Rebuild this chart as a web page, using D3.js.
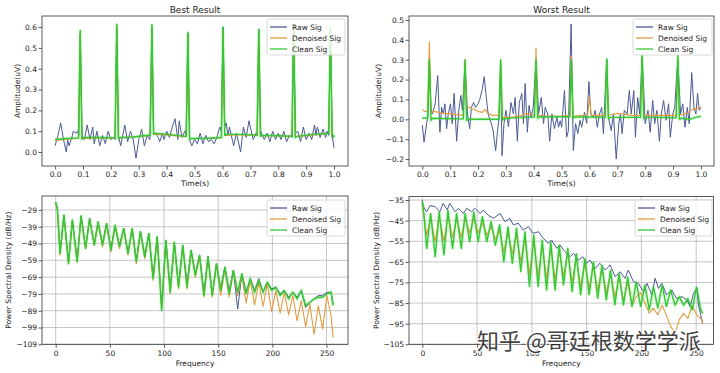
<!DOCTYPE html>
<html>
<head>
<meta charset="utf-8">
<script src="https://cdn.jsdelivr.net/npm/d3@7"></script>
<style>
body { margin: 0; background: #fff; }
svg text { font-family: "DejaVu Sans", sans-serif; fill: #222; }
</style>
</head>
<body>
<svg id="chart" width="720" height="373"></svg>
<script>
// ---- time domain, best result : [t, amplitude]
var rawBest = [[0,0.03],[0.01,0.08],[0.02,0.14],[0.03,0.06],[0.04,0.0],[0.045,0.06],[0.05,0.03],[0.06,0.07],[0.065,0.1],[0.075,0.09],[0.08,0.1],[0.085,0.08],[0.09,0.57],[0.097,0.07],[0.105,0.06],[0.115,0.13],[0.125,0.06],[0.135,0.12],[0.14,0.04],[0.15,0.1],[0.16,0.03],[0.17,0.08],[0.18,0.04],[0.19,0.1],[0.2,0.06],[0.21,0.07],[0.215,0.06],[0.221,0.6],[0.227,0.08],[0.235,0.03],[0.25,0.13],[0.26,0.05],[0.27,0.1],[0.28,0.06],[0.29,-0.03],[0.3,0.06],[0.31,0.11],[0.32,0.03],[0.33,0.08],[0.34,0.06],[0.347,0.6],[0.353,0.09],[0.36,0.09],[0.37,0.07],[0.375,0.05],[0.385,0.09],[0.39,0.06],[0.4,0.1],[0.41,0.07],[0.42,0.12],[0.43,0.16],[0.44,0.06],[0.445,0.15],[0.455,0.07],[0.465,0.1],[0.47,0.08],[0.476,0.57],[0.482,0.06],[0.49,0.03],[0.5,0.06],[0.51,0.04],[0.52,0.09],[0.53,0.04],[0.54,0.08],[0.55,0.05],[0.56,0.06],[0.57,0.04],[0.58,0.07],[0.59,0.12],[0.596,0.1],[0.602,0.6],[0.608,0.12],[0.613,0.14],[0.62,0.08],[0.625,0.12],[0.64,0.03],[0.65,0.09],[0.665,0.0],[0.675,0.12],[0.685,0.07],[0.695,0.15],[0.71,0.06],[0.72,0.09],[0.725,0.08],[0.73,0.59],[0.737,0.1],[0.75,0.06],[0.76,0.09],[0.77,0.05],[0.78,0.1],[0.79,0.06],[0.8,0.09],[0.81,0.06],[0.82,0.1],[0.83,0.05],[0.84,0.08],[0.85,0.07],[0.855,0.6],[0.862,0.09],[0.87,0.1],[0.88,0.05],[0.89,0.12],[0.9,0.06],[0.91,0.09],[0.92,0.06],[0.93,0.13],[0.935,0.08],[0.94,0.12],[0.95,0.07],[0.96,0.11],[0.97,0.07],[0.975,0.1],[0.981,0.08],[0.987,0.6],[0.993,0.08],[1.0,0.02]];
var denBest = [[0,0.055],[0.04,0.062],[0.084,0.066],[0.09,0.57],[0.096,0.064],[0.15,0.068],[0.215,0.068],[0.221,0.6],[0.227,0.066],[0.28,0.072],[0.341,0.08],[0.347,0.6],[0.353,0.085],[0.4,0.082],[0.47,0.074],[0.476,0.56],[0.482,0.064],[0.55,0.066],[0.596,0.07],[0.602,0.59],[0.608,0.08],[0.67,0.083],[0.724,0.08],[0.73,0.58],[0.736,0.078],[0.8,0.078],[0.849,0.075],[0.855,0.59],[0.861,0.074],[0.93,0.082],[0.981,0.09],[0.987,0.59],[0.993,0.08],[1.0,0.075]];
var cleanBest = [[0,0.06],[0.04,0.065],[0.084,0.068],[0.09,0.585],[0.096,0.062],[0.102,0.07],[0.15,0.07],[0.215,0.068],[0.221,0.615],[0.227,0.063],[0.233,0.07],[0.28,0.072],[0.341,0.082],[0.347,0.612],[0.353,0.085],[0.359,0.09],[0.4,0.085],[0.47,0.075],[0.476,0.575],[0.482,0.06],[0.488,0.065],[0.55,0.066],[0.596,0.07],[0.602,0.6],[0.608,0.08],[0.614,0.085],[0.67,0.085],[0.724,0.08],[0.73,0.59],[0.736,0.075],[0.742,0.08],[0.8,0.078],[0.849,0.075],[0.855,0.6],[0.861,0.07],[0.867,0.075],[0.93,0.085],[0.981,0.09],[0.987,0.6],[0.993,0.075],[0.998,0.08],[1.0,0.07]];

// ---- time domain, worst result
var rawWorst = [[0,-0.03],[0.006,-0.115],[0.016,-0.015],[0.02,0.02],[0.025,0.3],[0.031,0.05],[0.036,0.027],[0.046,0.078],[0.055,0.22],[0.063,-0.065],[0.069,0.06],[0.075,0.027],[0.081,0.078],[0.087,-0.047],[0.093,0.027],[0.101,0.078],[0.107,-0.022],[0.114,0.13],[0.123,-0.11],[0.131,0.045],[0.138,0.12],[0.144,0.045],[0.153,0.28],[0.162,0.027],[0.17,-0.047],[0.176,0.06],[0.184,0.085],[0.191,0.06],[0.2,0.078],[0.206,0.1],[0.215,0.15],[0.222,0.215],[0.228,0.13],[0.236,0.027],[0.246,-0.015],[0.254,-0.057],[0.263,-0.158],[0.27,-0.057],[0.276,0.02],[0.281,0.28],[0.286,-0.183],[0.293,-0.022],[0.3,0.045],[0.309,-0.038],[0.318,0.085],[0.327,0.027],[0.333,0.11],[0.341,-0.11],[0.348,0.085],[0.357,0.13],[0.363,-0.022],[0.369,0.18],[0.377,-0.065],[0.383,0.07],[0.39,0.01],[0.398,0.06],[0.408,0.3],[0.417,0.027],[0.427,0.11],[0.435,-0.022],[0.441,0.06],[0.45,0.027],[0.457,-0.11],[0.465,0.027],[0.474,-0.047],[0.483,0.01],[0.489,-0.04],[0.495,-0.007],[0.5,-0.04],[0.51,0.145],[0.518,-0.09],[0.524,-0.06],[0.534,0.48],[0.542,-0.157],[0.55,-0.022],[0.558,-0.072],[0.566,-0.005],[0.572,-0.04],[0.582,0.035],[0.59,-0.02],[0.598,0.19],[0.605,0.027],[0.614,0.01],[0.62,0.045],[0.628,-0.04],[0.636,0.027],[0.644,0.06],[0.65,-0.072],[0.662,0.3],[0.668,0.01],[0.678,-0.057],[0.686,0.027],[0.696,-0.2],[0.705,-0.022],[0.711,0.027],[0.717,-0.072],[0.725,0.045],[0.735,0.027],[0.743,0.145],[0.75,0.027],[0.759,0.145],[0.765,-0.09],[0.773,0.11],[0.78,0.027],[0.789,0.31],[0.8,-0.022],[0.81,0.045],[0.818,-0.065],[0.827,0.095],[0.834,-0.022],[0.842,0.045],[0.851,-0.11],[0.858,0.027],[0.866,0.095],[0.875,-0.005],[0.884,0.078],[0.89,-0.09],[0.899,0.027],[0.906,0.06],[0.917,0.3],[0.927,0.027],[0.935,0.078],[0.943,-0.04],[0.951,0.06],[0.958,-0.022],[0.967,0.235],[0.975,0.06],[0.982,0.027],[0.988,0.13],[0.994,0.045],[1.0,0.06]];
var denWorst = [[0,0.05],[0.008,0.04],[0.019,0.04],[0.025,0.39],[0.031,0.03],[0.04,0.04],[0.08,0.03],[0.12,0.025],[0.147,0.02],[0.153,0.3],[0.159,0.06],[0.17,0.06],[0.2,0.04],[0.215,0.035],[0.225,0.05],[0.235,0.03],[0.25,0.02],[0.275,0.02],[0.281,0.28],[0.287,0.01],[0.32,0.01],[0.36,0.02],[0.375,0.03],[0.402,0.02],[0.408,0.36],[0.414,0.02],[0.45,0.015],[0.5,0.015],[0.529,0.02],[0.535,0.32],[0.541,0.015],[0.58,0.02],[0.594,0.03],[0.6,0.115],[0.606,0.02],[0.656,0.02],[0.662,0.29],[0.668,0.02],[0.7,0.03],[0.75,0.02],[0.783,0.02],[0.789,0.31],[0.795,0.02],[0.85,0.02],[0.911,0.02],[0.917,0.3],[0.923,0.02],[0.95,0.03],[0.97,0.05],[1.0,0.06]];
var cleanWorst = [[0,0.005],[0.019,0.008],[0.025,0.3],[0.031,-0.005],[0.037,0.005],[0.1,0.003],[0.147,0.002],[0.153,0.3],[0.159,-0.005],[0.165,0.0],[0.22,0.0],[0.275,0.0],[0.281,0.3],[0.287,-0.005],[0.293,0.003],[0.35,0.01],[0.402,0.012],[0.408,0.3],[0.414,0.005],[0.42,0.012],[0.48,0.013],[0.529,0.013],[0.535,0.3],[0.541,0.005],[0.547,0.012],[0.6,0.012],[0.656,0.01],[0.662,0.305],[0.668,0.003],[0.674,0.01],[0.73,0.01],[0.783,0.01],[0.789,0.322],[0.795,0.003],[0.801,0.01],[0.86,0.01],[0.911,0.008],[0.917,0.322],[0.923,0.0],[0.929,0.005],[0.96,0.0],[0.98,0.01],[1.0,0.015]];

// ---- PSD, harmonic grid shared by both spectra (Hz)
var psdFreq = [0,1.5,4,7.6,11.8,15.4,19.8,23.4,27.6,31.3,35.6,39.1,43.2,47,51,54.8,58.9,62.8,66.7,70.6,74.4,78.2,82.2,86,89.9,93.7,97.8,101.7,105.7,109.5,113.4,117.3,121.2,125,128.9,132.8,136.8,140.6,144.5,148.4,152.3,156.2,160.1,164,168,171.8,175.8,179.6,183.6,187.5,191.4,195.3,199.3,203.2,207.2,211,215,218.9,222.8,226.7,230.7,234.6,238.5,242.4,246.4,250.3,254.2,256];

var rawPsdBest = [-24.5,-28.5,-54,-32,-60,-35,-59,-32.5,-51,-34,-50,-36.5,-49,-37,-52,-38.5,-50,-40,-54,-40.5,-59,-41.5,-56,-43,-69,-45,-86,-47,-76,-48.5,-74,-50,-73,-53,-67,-56,-78,-56.5,-79,-61,-76,-63,-77,-65,-88,-67,-78,-70,-77,-70,-78,-72,-76,-75,-79,-77,-81,-78,-81,-77,-87,-84,-82,-80,-80,-78,-78,-85];
var denPsdBest = [-25,-28.5,-56,-32.5,-61,-35.5,-60,-33,-52,-34.5,-50,-36.5,-51,-37.5,-54,-38.5,-52,-40.5,-56,-40.5,-61,-42.5,-58,-43.5,-71,-45.5,-88,-47.5,-79,-48.5,-76,-50.5,-76,-53.5,-69,-56.5,-81,-57.5,-81,-61.5,-80,-64,-81,-65.5,-80,-68,-84.5,-71,-85.5,-72,-86.5,-73,-89.5,-77,-90.5,-78,-91.5,-80,-95,-83,-98.5,-85,-103,-86,-100,-80,-92,-105];
var cleanPsdBest = [-24.5,-28,-55,-32,-61,-35,-60,-32.5,-52,-34,-50,-36,-50,-37,-53,-38,-51,-40,-55,-40,-60,-42,-57,-43,-70,-45,-89,-47,-78,-48,-75,-50,-75,-53,-68,-56,-80,-57,-80,-61,-77,-63,-79,-65,-78,-67,-79,-70,-78,-71,-78,-72,-77,-75,-80,-77,-82,-78,-82,-77,-86,-84,-82,-81,-81,-79,-78,-86];

var rawPsdWorstF = [0,1,4,7,11.6,16,19,22.8,25,30,33,37.5,40.5,45,48,52.7,55.7,60,65,71,75.5,80,83,87.7,92,96.8,101,106,110.5,115,118,122.7,125.7,130,135,138,142.5,146.5,150,153,157.7,162,167,171.4,176,180.6,185,188,192.7,197,202,205,209.5,212.5,215.6,218.6,223,227.7,232,237,241.5,244.5,247.5,250.6,252,256];
var rawPsdWorst = [-35,-38.2,-40.7,-37.7,-38.2,-40.7,-36.6,-39.8,-36.6,-40.7,-39,-41.5,-39,-40.7,-39,-41.5,-39.9,-42.3,-43.9,-41.5,-45.5,-43.9,-47,-46.3,-49.6,-47.9,-51.2,-50.4,-53.6,-56,-54.4,-58.5,-56.8,-60,-62.5,-60.9,-64.1,-62.5,-65.7,-64.1,-68.2,-65.7,-69,-66.5,-72.2,-69.8,-73,-69,-74.6,-75.4,-79.5,-75.4,-81,-73,-77.9,-75.4,-81,-78.7,-82.7,-81.9,-83.5,-86.8,-80.3,-77.9,-86,-94.8];
var denPsdWorst = [-36,-43,-52,-44,-55,-43.5,-55,-43,-53,-44.5,-53,-44,-51,-44,-51,-46,-52,-48,-54,-50,-60,-51,-61,-52,-65,-53.5,-71,-55,-72,-57,-73,-58,-74,-60,-72,-61,-75,-63,-77,-65.5,-78,-67,-79,-68.5,-80,-71,-82,-72.5,-83.5,-75,-86,-82,-80,-85,-89.9,-87.5,-90.7,-86,-91,-96.3,-99.6,-93,-90,-92.4,-86,-90.7,-92.4,-95];
var cleanPsdWorst = [-36,-42,-58.5,-41.5,-62.5,-40.7,-61.7,-40,-58.5,-41.5,-58.5,-41.5,-55.3,-40.7,-55.3,-43,-55.3,-45.5,-57,-47,-65,-48,-65.8,-48.7,-69.8,-50.4,-77,-52,-77,-54.4,-78.7,-55.3,-78.7,-56.8,-76.2,-58.4,-79.5,-61,-81,-63.4,-81,-65,-82.7,-66.6,-83.5,-69,-85.9,-70.7,-85.9,-72.3,-86.7,-74.7,-86.7,-76.3,-88.3,-77.2,-87.5,-76.3,-86.7,-78.8,-86,-82,-86,-82.8,-88.3,-77.2,-88.3,-90];

// tick labels
var timeTicks = [0,0.1,0.2,0.3,0.4,0.5,0.6,0.7,0.8,0.9,1.0];
var ampTicksBest = [0,0.1,0.2,0.3,0.4,0.5,0.6];
var ampTicksWorst = [-0.2,-0.1,0,0.1,0.2,0.3,0.4,0.5];
var freqTicks = [0,50,100,150,200,250];
var psdTicksBest = [-109,-99,-89,-79,-69,-59,-49,-39,-29];
var psdTicksWorst = [-105,-95,-85,-75,-65,-55,-45,-35];
var legendNames = ['Raw Sig', 'Denoised Sig', 'Clean Sig'];

var colRaw = '#4b5a93', colDen = '#e29c40', colClean = '#36c636';

var svg = d3.select('#chart');
var clipN = 0;

function zip(xs, ys) { return xs.map(function (x, i) { return [x, ys[i]]; }); }

function panel(o) {
  var x = d3.scaleLinear().domain(o.xd).range([o.box[0], o.box[1]]);
  var y = d3.scaleLinear().domain(o.yd).range([o.box[3], o.box[2]]);
  var g = svg.append('g');
  var id = 'clip' + (clipN++);
  g.append('clipPath').attr('id', id).append('rect')
    .attr('x', o.box[0]).attr('y', o.box[2])
    .attr('width', o.box[1] - o.box[0]).attr('height', o.box[3] - o.box[2]);

  // grid
  if (o.grid) {
    g.selectAll('.gx').data(o.xt).enter().append('line')
      .attr('x1', x).attr('x2', x).attr('y1', o.box[2]).attr('y2', o.box[3])
      .attr('stroke', '#b8b8b8').attr('stroke-width', 0.8);
    g.selectAll('.gy').data(o.yt).enter().append('line')
      .attr('y1', y).attr('y2', y).attr('x1', o.box[0]).attr('x2', o.box[1])
      .attr('stroke', '#b8b8b8').attr('stroke-width', 0.8);
  }

  var line = d3.line().x(function (d) { return x(d[0]); }).y(function (d) { return y(d[1]); });
  var lines = g.append('g').attr('clip-path', 'url(#' + id + ')');
  // soft halo under the clean signal
  lines.append('path').datum(o.series[2]).attr('d', line).attr('fill', 'none')
    .attr('stroke', '#8ef08e').attr('stroke-width', 3.5).attr('stroke-opacity', 0.35);
  var cols = [colRaw, colDen, colClean];
  var widths = [1.0, 1.1, 1.4];
  o.series.forEach(function (s, i) {
    lines.append('path').datum(s).attr('d', line).attr('fill', 'none')
      .attr('stroke', cols[i]).attr('stroke-width', widths[i]).attr('stroke-linejoin', 'round');
  });

  // axes
  var ax = g.append('g').attr('transform', 'translate(0,' + o.box[3] + ')')
    .call(d3.axisBottom(x).tickValues(o.xt).tickFormat(o.xf).tickSize(3.5).tickSizeOuter(0).tickPadding(2.5));
  var ay = g.append('g').attr('transform', 'translate(' + o.box[0] + ',0)')
    .call(d3.axisLeft(y).tickValues(o.yt).tickFormat(o.yf).tickSize(3.5).tickSizeOuter(0).tickPadding(1.5));
  [ax, ay].forEach(function (a) {
    a.select('.domain').remove();
    a.selectAll('line').attr('stroke', '#333').attr('stroke-width', 0.8);
    a.selectAll('text').style('font-size', '7.5px').style('font-family', '"DejaVu Sans", sans-serif').attr('fill', '#222');
  });

  g.append('rect').attr('x', o.box[0]).attr('y', o.box[2])
    .attr('width', o.box[1] - o.box[0]).attr('height', o.box[3] - o.box[2])
    .attr('fill', 'none').attr('stroke', '#333').attr('stroke-width', 0.8);

  var cx = (o.box[0] + o.box[1]) / 2, cy = (o.box[2] + o.box[3]) / 2;
  if (o.title) g.append('text').attr('x', cx).attr('y', 12.5).attr('text-anchor', 'middle')
    .style('font-size', '9px').text(o.title);
  g.append('text').attr('x', cx).attr('y', o.xlY).attr('text-anchor', 'middle')
    .style('font-size', '7.5px').text(o.xlabel);
  g.append('text').attr('transform', 'translate(' + o.ylX + ',' + cy + ') rotate(-90)')
    .attr('text-anchor', 'middle').style('font-size', '7.5px').text(o.ylabel);

  // legend
  var L = o.leg;
  var lg = g.append('g').attr('transform', 'translate(' + L[0] + ',' + L[1] + ')');
  lg.append('rect').attr('width', L[2]).attr('height', 36).attr('rx', 2)
    .attr('fill', '#fff').attr('fill-opacity', 0.8).attr('stroke', '#cfcfcf').attr('stroke-width', 0.8);
  legendNames.forEach(function (n, i) {
    var yy = 8 + i * 11;
    lg.append('line').attr('x1', 3).attr('x2', 20).attr('y1', yy).attr('y2', yy)
      .attr('stroke', cols[i]).attr('stroke-width', 1.3);
    lg.append('text').attr('x', 25).attr('y', yy + 2.7).style('font-size', '7.5px').text(n);
  });
}

var f1 = d3.format('.1f'), fd = d3.format('d');

panel({ box: [42, 348, 16, 166], xd: [-0.047, 1.05], yd: [-0.067, 0.653],
  series: [rawBest, denBest, cleanBest], xt: timeTicks, yt: ampTicksBest, xf: f1, yf: f1,
  title: 'Best Result', xlabel: 'Time(s)', xlY: 186, ylabel: 'Amplitude(uV)', ylX: 19.5,
  leg: [267, 19, 78], grid: false });

panel({ box: [409, 714, 16, 166], xd: [-0.048, 1.047], yd: [-0.235, 0.52],
  series: [rawWorst, denWorst, cleanWorst], xt: timeTicks, yt: ampTicksWorst, xf: f1, yf: f1,
  title: 'Worst Result', xlabel: 'Time(s)', xlY: 186, ylabel: 'Amplitude(uV)', ylX: 380.5,
  leg: [633, 19, 79], grid: false });

panel({ box: [42, 348, 196, 344.3], xd: [-12.65, 269.8], yd: [-109, -20.7],
  series: [zip(psdFreq, rawPsdBest), zip(psdFreq, denPsdBest), zip(psdFreq, cleanPsdBest)],
  xt: freqTicks, yt: psdTicksBest, xf: fd, yf: fd,
  xlabel: 'Frequency', xlY: 365.5, ylabel: 'Power Spectral Density (dB/Hz)', ylX: 11,
  leg: [267, 200, 78], grid: true });

panel({ box: [409, 713.5, 196.5, 344.3], xd: [-12.15, 265.8], yd: [-105, -33.3],
  series: [zip(rawPsdWorstF, rawPsdWorst), zip(psdFreq, denPsdWorst), zip(psdFreq, cleanPsdWorst)],
  xt: freqTicks, yt: psdTicksWorst, xf: fd, yf: fd,
  xlabel: 'Frequency', xlY: 365.5, ylabel: 'Power Spectral Density (dB/Hz)', ylX: 378.5,
  leg: [635, 200, 77], grid: true });

// watermark (sits over the lower-right tick labels, as in the source image)
svg.append('text').attr('x', 477).attr('y', 349)
  .style('font-family', '"Noto Sans CJK SC", sans-serif').style('font-size', '22px')
  .style('paint-order', 'stroke')
  .attr('fill', '#808080').attr('stroke', '#fff').attr('stroke-width', 2.5).attr('opacity', 0.85)
  .text('知乎 @哥廷根数学学派');
</script>
</body>
</html>
